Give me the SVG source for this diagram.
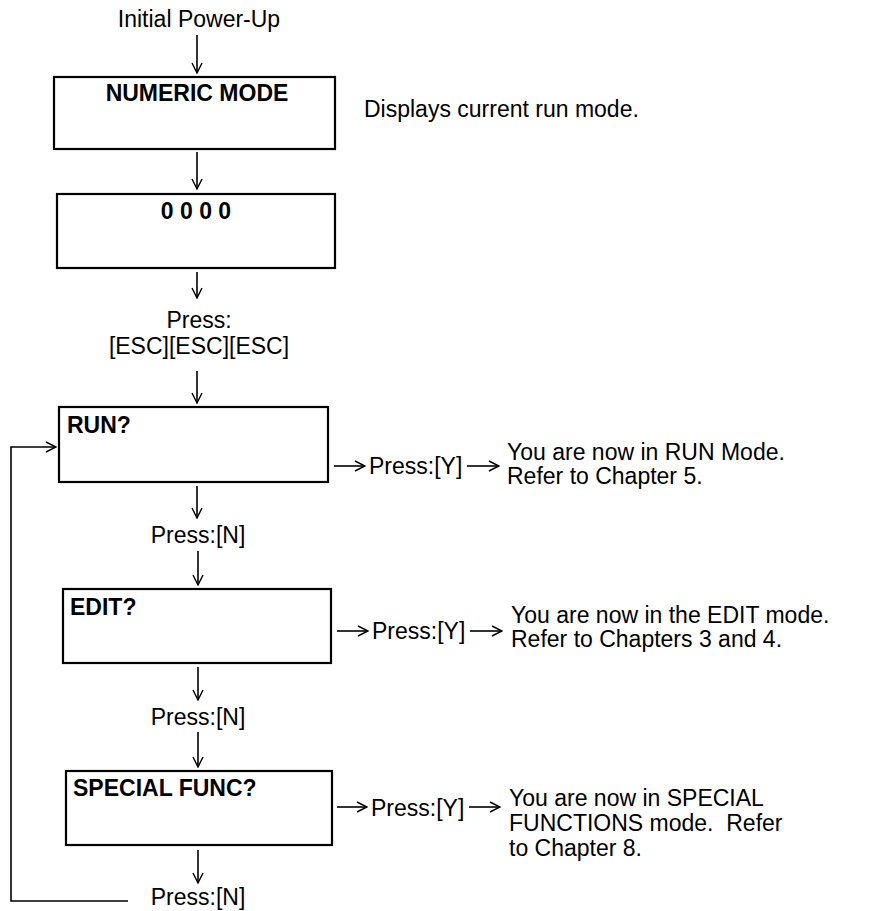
<svg xmlns="http://www.w3.org/2000/svg" width="872" height="911" viewBox="0 0 872 911">
<style>
text{font-family:"Liberation Sans",Arial,sans-serif;font-size:23px;fill:#000}
.b{font-weight:bold}
.c{text-anchor:middle}
.pre{white-space:pre}
.box{fill:#fff;stroke:#000;stroke-width:2.2}
.ln{fill:none;stroke:#000;stroke-width:1.6}
</style>
<defs>
<marker id="ah" viewBox="0 0 12 12" refX="11" refY="6" markerWidth="12" markerHeight="12" markerUnits="userSpaceOnUse" orient="auto">
<path d="M1,1 L11,6 L1,11" fill="none" stroke="#000" stroke-width="1.4"/>
</marker>
</defs>
<rect width="872" height="911" fill="#fff"/>
<g id="start"><text class="c" x="199" y="27">Initial Power-Up</text></g>
<g id="numeric"><rect class="box" x="54" y="77" width="281" height="72"/><text class="b c" x="197" y="101">NUMERIC MODE</text></g>
<g id="numeric-note"><text x="364" y="117">Displays current run mode.</text></g>
<g id="zeros"><rect class="box" x="57" y="194" width="278" height="74"/><text class="b c" x="196" y="219">0 0 0 0</text></g>
<g id="esc"><text class="c" x="199" y="328">Press:</text><text class="c" x="199" y="354">[ESC][ESC][ESC]</text></g>
<g id="run"><rect class="box" x="59" y="407" width="269" height="75"/><text class="b" x="67" y="433">RUN?</text></g>
<g id="run-y"><text x="369" y="474">Press:[Y]</text></g>
<g id="run-note"><text x="507" y="460">You are now in RUN Mode.</text><text x="507" y="484">Refer to Chapter 5.</text></g>
<g id="run-n"><text class="c" x="198" y="543">Press:[N]</text></g>
<g id="edit"><rect class="box" x="63" y="589" width="268" height="74"/><text class="b" x="70" y="615">EDIT?</text></g>
<g id="edit-y"><text x="372" y="639">Press:[Y]</text></g>
<g id="edit-note"><text x="511" y="623">You are now in the EDIT mode.</text><text x="511" y="647">Refer to Chapters 3 and 4.</text></g>
<g id="edit-n"><text class="c" x="198" y="725">Press:[N]</text></g>
<g id="special"><rect class="box" x="66" y="771" width="266" height="74"/><text class="b" x="73" y="796">SPECIAL FUNC?</text></g>
<g id="special-y"><text x="371" y="816">Press:[Y]</text></g>
<g id="special-note"><text x="509" y="806">You are now in SPECIAL</text><text class="pre" x="509" y="831">FUNCTIONS mode.  Refer</text><text x="509" y="856">to Chapter 8.</text></g>
<g id="special-n"><text class="c" x="198" y="905">Press:[N]</text></g>
<g id="connectors">
<line class="ln" x1="197" y1="35" x2="197" y2="73" marker-end="url(#ah)"/>
<line class="ln" x1="197" y1="152" x2="197" y2="189" marker-end="url(#ah)"/>
<line class="ln" x1="197" y1="272" x2="197" y2="298" marker-end="url(#ah)"/>
<line class="ln" x1="197" y1="371" x2="197" y2="403" marker-end="url(#ah)"/>
<line class="ln" x1="197" y1="486" x2="197" y2="518" marker-end="url(#ah)"/>
<line class="ln" x1="198" y1="551" x2="198" y2="585" marker-end="url(#ah)"/>
<line class="ln" x1="198" y1="667" x2="198" y2="700" marker-end="url(#ah)"/>
<line class="ln" x1="198" y1="732" x2="198" y2="767" marker-end="url(#ah)"/>
<line class="ln" x1="198" y1="850" x2="198" y2="883" marker-end="url(#ah)"/>
<line class="ln" x1="334" y1="466" x2="365" y2="466" marker-end="url(#ah)"/>
<line class="ln" x1="467" y1="466" x2="499" y2="466" marker-end="url(#ah)"/>
<line class="ln" x1="337" y1="631" x2="368" y2="631" marker-end="url(#ah)"/>
<line class="ln" x1="470" y1="631" x2="502" y2="631" marker-end="url(#ah)"/>
<line class="ln" x1="337" y1="807" x2="367" y2="807" marker-end="url(#ah)"/>
<line class="ln" x1="469" y1="807" x2="500" y2="807" marker-end="url(#ah)"/>
<polyline class="ln" points="128,901 11,901 11,447 56,447" marker-end="url(#ah)"/>
</g>
</svg>
